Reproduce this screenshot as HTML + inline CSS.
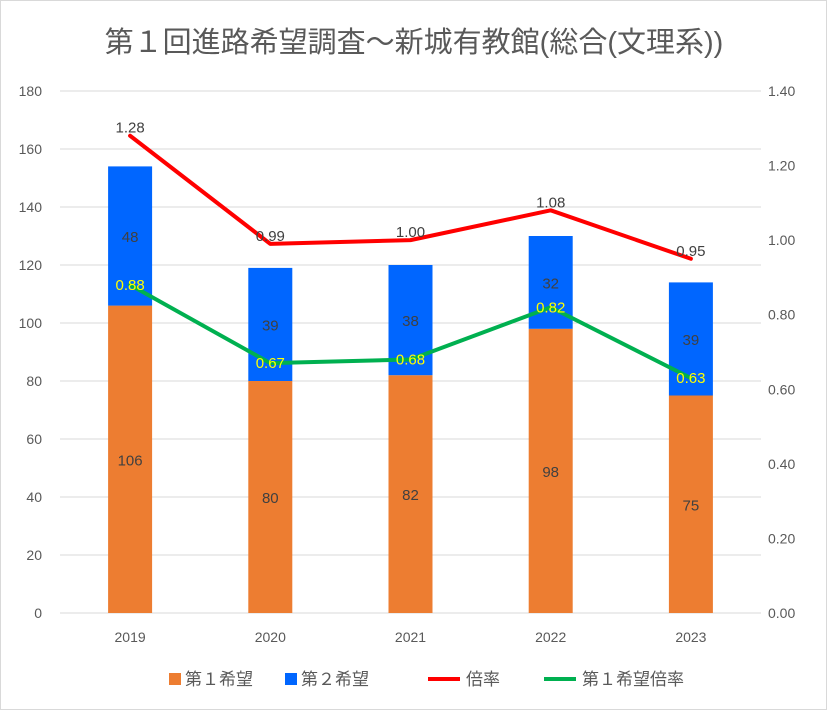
<!DOCTYPE html>
<html><head><meta charset="utf-8"><style>
body{margin:0;background:#fff;}
svg text{font-family:"Liberation Sans","Noto Sans CJK JP",sans-serif;}
</style></head><body>
<svg id="chart" width="827" height="710">
<rect x="0.5" y="0.5" width="826" height="709" fill="#fff" stroke="#d9d9d9"/>
<text x="414" y="52" text-anchor="middle" font-size="29" fill="#595959">第１回進路希望調査～新城有教館(総合(文理系))</text>
<g id="grid"></g><g id="bars"></g><g id="lines"></g><g id="labels"></g>
<g id="legend">
<rect x="169" y="673" width="12" height="12" fill="#ED7D31"/>
<text x="185" y="685" font-size="17" fill="#595959">第１希望</text>
<rect x="285" y="673" width="12" height="12" fill="#0066FF"/>
<text x="301" y="685" font-size="17" fill="#595959">第２希望</text>
<line x1="428" y1="679" x2="460" y2="679" stroke="#FF0000" stroke-width="4"/>
<text x="466" y="685" font-size="17" fill="#595959">倍率</text>
<line x1="544" y1="679" x2="576" y2="679" stroke="#00B050" stroke-width="4"/>
<text x="582" y="685" font-size="17" fill="#595959">第１希望倍率</text>
</g>
</svg>
<script>
const categories=["2019","2020","2021","2022","2023"];
const first=[106,80,82,98,75];
const second=[48,39,38,32,39];
const ratio=[1.28,0.99,1.00,1.08,0.95];
const firstRatio=[0.88,0.67,0.68,0.82,0.63];
const leftTicks=[0,20,40,60,80,100,120,140,160,180];
const rightTicks=[0,0.2,0.4,0.6,0.8,1.0,1.2,1.4];
const NS="http://www.w3.org/2000/svg";
const X0=60,X1=761,Y0=613,Y1=91;
const step=(X1-X0)/categories.length;
function xc(i){return X0+step*(i+0.5);}
function yl(v){return Y0-(Y0-Y1)*v/180;}
function yr(v){return Y0-(Y0-Y1)*v/1.4;}
function mk(tag,attrs,parent,txt){const e=document.createElementNS(NS,tag);for(const k in attrs)e.setAttribute(k,attrs[k]);if(txt!==undefined)e.textContent=txt;document.getElementById(parent).appendChild(e);return e;}
leftTicks.forEach(t=>{
 const g=mk('line',{x1:X0,x2:X1,y1:yl(t),y2:yl(t),stroke:'#d9d9d9','stroke-width':1},'grid');
 
 
 const l=mk('text',{x:42,y:yl(t)+5,'text-anchor':'end','font-size':14,fill:'#595959'},'grid',t);
 
 
});
rightTicks.forEach(t=>{
 const l=mk('text',{x:768,y:yr(t)+5,'font-size':14,fill:'#595959'},'grid',t.toFixed(2));
 
 
});
categories.forEach((c,i)=>{
 const x=xc(i),w=44;
 const b1=mk('rect',{x:x-w/2,y:yl(first[i]),width:w,height:Y0-yl(first[i]),fill:'#ED7D31'},'bars');
 
 
 const b2=mk('rect',{x:x-w/2,y:yl(first[i]+second[i]),width:w,height:yl(first[i])-yl(first[i]+second[i]),fill:'#0066FF'},'bars');
 
 
 const t1=mk('text',{x:x,y:(yl(first[i])+Y0)/2+6,'text-anchor':'middle','font-size':15,fill:'#404040'},'labels',first[i]);
 
 
 const t2=mk('text',{x:x,y:(yl(first[i])+yl(first[i]+second[i]))/2+6,'text-anchor':'middle','font-size':15,fill:'#404040'},'labels',second[i]);
 
 
 const xl=mk('text',{x:x,y:642,'text-anchor':'middle','font-size':14,fill:'#595959'},'labels',c);
 
 
 const rl=mk('text',{x:x,y:yr(ratio[i])-3,'text-anchor':'middle','font-size':15,fill:'#404040'},'labels',ratio[i].toFixed(2));
 
 
 const gl=mk('text',{x:x,y:yr(firstRatio[i])+5,'text-anchor':'middle','font-size':15,fill:'#FFFF00'},'labels',firstRatio[i].toFixed(2));
 
 
});
const pr=mk('polyline',{points:ratio.map((v,i)=>xc(i)+','+yr(v)).join(' '),fill:'none',stroke:'#FF0000','stroke-width':4,'stroke-linejoin':'round','stroke-linecap':'round'},'lines');


const pg=mk('polyline',{points:firstRatio.map((v,i)=>xc(i)+','+yr(v)).join(' '),fill:'none',stroke:'#00B050','stroke-width':4,'stroke-linejoin':'round','stroke-linecap':'round'},'lines');


</script>
</body></html>
